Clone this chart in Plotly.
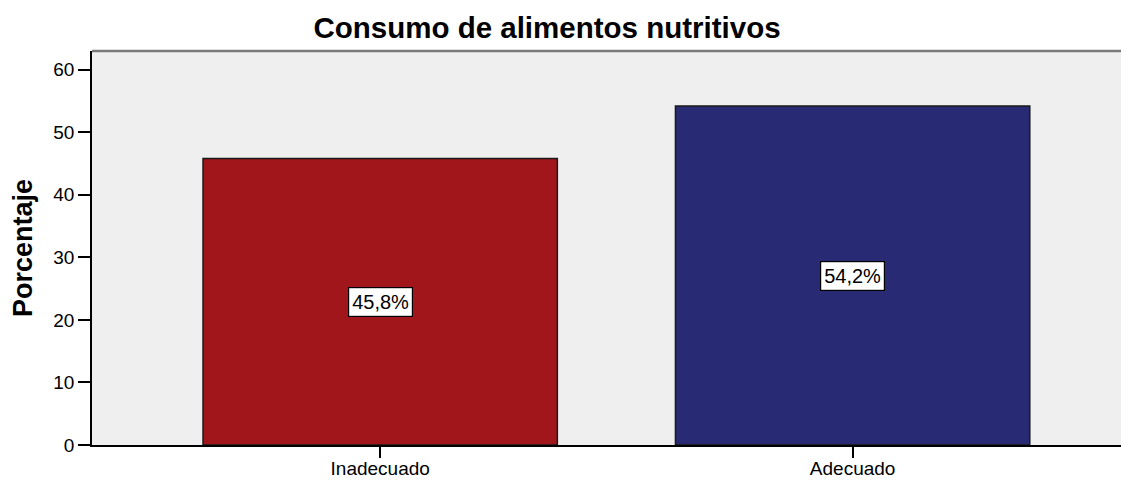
import plotly.graph_objects as go

categories = ["Inadecuado", "Adecuado"]
values = [45.8, 54.2]
labels = ["45,8%", "54,2%"]
colors = ["#a0161a", "#282a73"]
y_ticks = [0, 10, 20, 30, 40, 50, 60]

FONT = "Liberation Sans, Arial"
W, H = 1121, 472  # page body has 8px margin

fig = go.Figure()
fig.add_trace(go.Bar(
    x=categories, y=values, width=0.75,
    marker=dict(color=colors, line=dict(color="#1a1a1a", width=1.5)),
    hoverinfo="skip",
))
for c, v, t in zip(categories, values, labels):
    fig.add_annotation(x=c, y=v / 2, text=t, showarrow=False,
                       font=dict(family=FONT, size=20, color="black"),
                       bgcolor="white", bordercolor="black", borderwidth=1.2, borderpad=3)

fig.update_layout(
    width=W, height=H,
    margin=dict(l=84, r=0, t=43, b=35),
    paper_bgcolor="white", plot_bgcolor="#efefef",
    title=dict(text="<b>Consumo de alimentos nutritivos</b>", x=(547 - 8) / W, xanchor="center",
               xref="container", yref="container", y=1 - 20 / H, yanchor="middle",
               font=dict(family=FONT, size=29.5, color="black")),
    showlegend=False,
    xaxis=dict(range=[-0.61, 1.585], showline=True, linecolor="black", linewidth=1.5,
               ticks="outside", ticklen=11, tickwidth=1.5, tickcolor="black",
               ticklabelstandoff=-6,
               tickfont=dict(family=FONT, size=19, color="black"),
               showgrid=False, zeroline=False, automargin=False),
    yaxis=dict(range=[0, 63.0], tickvals=y_ticks, showline=True, linecolor="black",
               linewidth=1.5, ticks="outside", ticklen=12, tickwidth=2, tickcolor="black",
               tickfont=dict(family=FONT, size=19, color="black"),
               showgrid=False, zeroline=False, automargin=False,
               title=dict(text="<b>Porcentaje</b>", standoff=20,
                          font=dict(family=FONT, size=27, color="black"))),
)
fig.add_shape(type="line", xref="paper", yref="paper", x0=0, x1=1, y0=1, y1=1,
              line=dict(color="#7a7a7a", width=2.5))
fig.write_html("out.html")
